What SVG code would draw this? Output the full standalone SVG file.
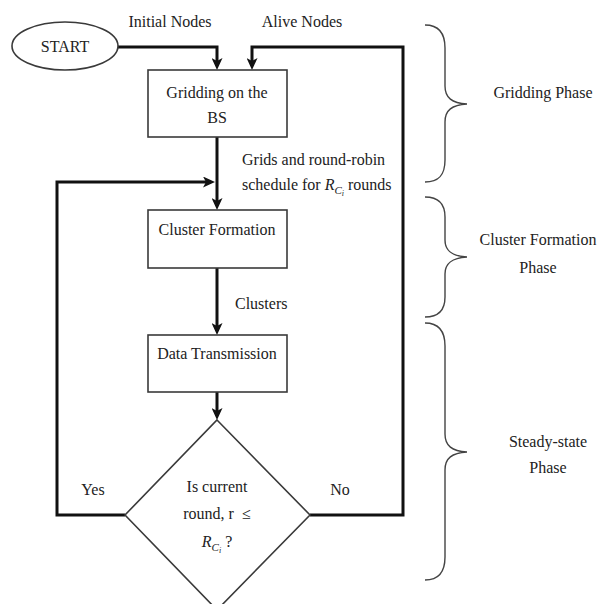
<svg xmlns="http://www.w3.org/2000/svg" width="603" height="604" viewBox="0 0 603 604">
<defs>
<style>
text{font-family:"Liberation Serif","Times New Roman",serif;font-size:16px;fill:#222}
.mid{text-anchor:middle}
.node{fill:#fff;stroke:#3a3a3a;stroke-width:1.6}
.conn{fill:none;stroke:#111;stroke-width:3}
.brace{fill:none;stroke:#444;stroke-width:1.4}
.it{font-style:italic}
</style>
<marker id="arr" markerUnits="userSpaceOnUse" viewBox="0 0 12 11" refX="8" refY="5.5" markerWidth="12" markerHeight="11" orient="auto">
<path d="M0,0 L12,5.5 L0,11 L3,5.5 z" fill="#111"/>
</marker>
</defs>
<rect width="603" height="604" fill="#fff"/>

<g id="connectors">
<path class="conn" d="M118,47 H217 V66" marker-end="url(#arr)"/>
<path class="conn" d="M310,515 H403 V47 H252 V66" marker-end="url(#arr)"/>
<path class="conn" d="M217,137 V206" marker-end="url(#arr)"/>
<path class="conn" d="M125,515 H57 V182 H211" marker-end="url(#arr)"/>
<path class="conn" d="M217,268 V331" marker-end="url(#arr)"/>
<path class="conn" d="M217,392 V416" marker-end="url(#arr)"/>
</g>

<g id="start">
<ellipse class="node" cx="65" cy="46" rx="53" ry="24"/>
<text class="mid" x="65" y="52">START</text>
</g>
<g id="gridding">
<rect class="node" x="148" y="70" width="139" height="67"/>
<text class="mid" x="217" y="98">Gridding on the</text>
<text class="mid" x="217" y="123">BS</text>
</g>
<g id="cluster">
<rect class="node" x="148" y="210" width="139" height="58"/>
<text class="mid" x="217" y="235">Cluster Formation</text>
</g>
<g id="data">
<rect class="node" x="148" y="335" width="139" height="57"/>
<text class="mid" x="217" y="359">Data Transmission</text>
</g>
<g id="decision">
<polygon class="node" points="217,420 310,515 217,610 125,515"/>
<text class="mid" x="217" y="492">Is current</text>
<text class="mid" x="217" y="519">round, r &#160;≤</text>
<text class="mid" x="217" y="547"><tspan class="it">R</tspan><tspan class="it" font-size="11" dy="4">C</tspan><tspan class="it" font-size="8" dy="2">i</tspan><tspan dy="-6"> ?</tspan></text>
</g>

<g id="labels">
<text class="mid" x="170" y="27">Initial Nodes</text>
<text class="mid" x="302" y="27">Alive Nodes</text>
<text x="242" y="165">Grids and round-robin</text>
<text x="242" y="190">schedule for <tspan class="it">R</tspan><tspan class="it" font-size="11" dy="4">C</tspan><tspan class="it" font-size="8" dy="2">i</tspan><tspan dy="-6"> rounds</tspan></text>
<text x="235" y="309">Clusters</text>
<text class="mid" x="93" y="495">Yes</text>
<text class="mid" x="340" y="495">No</text>
</g>

<g id="phase-gridding">
<path class="brace" d="M425,25 C439,25 445,33 445,48 L445,86 C445,98 452,103 467,104 C452,105 445,110 445,122 L445,160 C445,175 439,182 425,182"/>
<text class="mid" x="543" y="98">Gridding Phase</text>
</g>
<g id="phase-cluster">
<path class="brace" d="M425,197 C439,197 445,204 445,217 L445,240 C445,251 452,256 467,257 C452,258 445,263 445,274 L445,297 C445,310 439,317 425,317"/>
<text class="mid" x="538" y="245">Cluster Formation</text>
<text class="mid" x="538" y="273">Phase</text>
</g>
<g id="phase-steady">
<path class="brace" d="M425,323 C439,323 445,331 445,346 L445,434 C445,446 452,451 467,452 C452,453 445,458 445,470 L445,557 C445,572 439,580 425,580"/>
<text class="mid" x="548" y="447">Steady-state</text>
<text class="mid" x="548" y="473">Phase</text>
</g>
</svg>
